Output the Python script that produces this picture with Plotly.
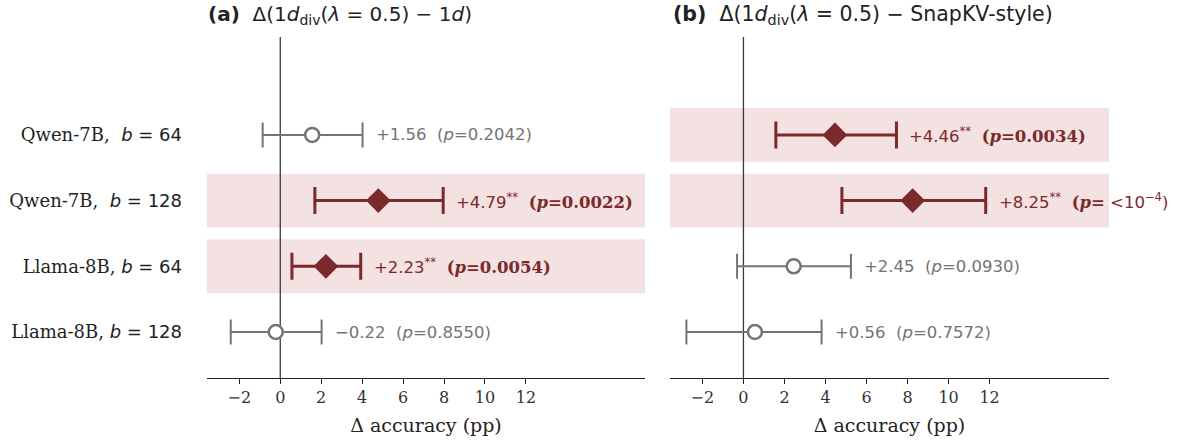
import plotly.graph_objects as go

# ---------------- data ----------------
rows = ["Qwen-7B", "Qwen-7B", "Llama-8B", "Llama-8B"]
budgets = [64, 128, 64, 128]

a_delta = [1.56, 4.79, 2.23, -0.22]
a_lo = [-0.86, 1.69, 0.57, -2.42]
a_hi = [4.02, 7.96, 3.93, 2.02]
a_p = ["0.2042", "0.0022", "0.0054", "0.8550"]
a_sig = [False, True, True, False]

b_delta = [4.46, 8.25, 2.45, 0.56]
b_lo = [1.58, 4.80, -0.31, -2.78]
b_hi = [7.46, 11.81, 5.24, 3.81]
b_p = ["0.0034", "<10^-4", "0.0930", "0.7572"]
b_sig = [True, True, False, False]

x_ticks = [-2, 0, 2, 4, 6, 8, 10, 12]
x_range = [-3.58, 17.82]
titles = [
    "<b>(a)</b>  Δ(1<i>d</i><sub>div</sub>(<i>λ</i> = 0.5) − 1<i>d</i>)",
    "<b>(b)</b>  Δ(1<i>d</i><sub>div</sub>(<i>λ</i> = 0.5) − SnapKV-style)",
]

# ---------------- style ----------------
RED = "#7b2a2c"
GRAY = "#747474"
BAND = "#f4e1e2"
SERIF = "DejaVu Serif"
SANS = "DejaVu Sans"

fig = go.Figure()

panels = [
    ("x", "y", a_delta, a_lo, a_hi, a_p, a_sig),
    ("x2", "y2", b_delta, b_lo, b_hi, b_p, b_sig),
]

ypos = list(range(len(rows)))
annotations = []
shapes = []

for k, (xa, ya, d, lo, hi, pv, sig) in enumerate(panels):
    axsuf = "" if k == 0 else "2"
    for i in ypos:
        if sig[i]:
            shapes.append(dict(type="rect", xref=f"x{axsuf} domain", yref=ya,
                               x0=0, x1=1, y0=i - 0.41, y1=i + 0.41,
                               fillcolor=BAND, line=dict(width=0), layer="below"))
    shapes.append(dict(type="line", xref=xa, yref=f"y{axsuf} domain",
                       x0=0, x1=0, y0=0, y1=1,
                       line=dict(color="#3a3a3a", width=1.3), layer="below"))
    for i in ypos:
        s = sig[i]
        col = RED if s else GRAY
        fig.add_trace(go.Scatter(
            x=[d[i]], y=[i], xaxis=xa, yaxis=ya, mode="markers",
            marker=dict(
                symbol="diamond" if s else "circle",
                size=19 if s else 14,
                color=RED if s else "white",
                line=dict(color=col, width=0 if s else 2.5),
            ),
            error_x=dict(type="data", symmetric=False,
                         array=[hi[i] - d[i]], arrayminus=[d[i] - lo[i]],
                         color=col, thickness=3 if s else 2,
                         width=13.5 if s else 12.5),
            showlegend=False, hoverinfo="skip",
        ))
        sign = "+" if d[i] >= 0 else "−"
        val = f"{sign}{abs(d[i]):.2f}"
        if s:
            if pv[i].startswith("<"):
                ptxt = (f"<span style='font-family:{SERIF}'><b>(<i>p</i>=</b></span>"
                        f" &lt;10<sup>−4</sup>)")
            else:
                ptxt = f"<span style='font-family:{SERIF}'><b>(<i>p</i>={pv[i]})</b></span>"
            txt = f"{val}<sup>**</sup>  {ptxt}"
        else:
            txt = f"{val}  (<i>p</i>={pv[i]})"
        annotations.append(dict(
            x=hi[i], y=i, xref=xa, yref=ya, text=txt, showarrow=False,
            xanchor="left", yanchor="middle", xshift=11,
            font=dict(family=SANS, size=16.5, color=col),
        ))

ticktext = []
for r, b in zip(rows, budgets):
    sep = ",  " if r.startswith("Qwen") else ", "
    ticktext.append(f"{r}{sep}<span style='font-family:{SANS}'><i>b</i> = {b}</span>")

xaxis_common = dict(
    range=x_range, tickvals=x_ticks,
    ticktext=[f"−{abs(t)}" if t < 0 else str(t) for t in x_ticks],
    showline=True, linecolor="#222", linewidth=1.2,
    ticks="outside", ticklen=5, tickcolor="#222", tickwidth=1.2,
    showgrid=False, zeroline=False,
    tickfont=dict(family=SERIF, size=16, color="#333"),
    title=dict(text="Δ accuracy (pp)", font=dict(family=SERIF, size=19, color="#222"),
               standoff=12),
)
yaxis_common = dict(
    range=[3.70, -1.49], showgrid=False, zeroline=False, showline=False,
    tickvals=ypos, ticks="",
)

fig.update_layout(
    width=1181, height=440,
    margin=dict(l=0, r=0, t=0, b=0),
    paper_bgcolor="white", plot_bgcolor="rgba(0,0,0,0)",
    xaxis=dict(domain=[207 / 1181, 645 / 1181], anchor="y", **xaxis_common),
    xaxis2=dict(domain=[670 / 1181, 1109 / 1181], anchor="y2", **xaxis_common),
    yaxis=dict(domain=[1 - 378 / 440, 1 - 37 / 440], anchor="x",
               ticktext=ticktext, ticklabelstandoff=24,
               tickfont=dict(family=SERIF, size=18, color="#222"),
               **yaxis_common),
    yaxis2=dict(domain=[1 - 378 / 440, 1 - 37 / 440], anchor="x2",
                showticklabels=False, **yaxis_common),
    shapes=shapes,
    annotations=annotations + [
        dict(text=titles[0], xref="paper", yref="paper", x=206 / 1181, y=1 - 15 / 440,
             xanchor="left", yanchor="middle", showarrow=False,
             font=dict(family=SANS, size=20, color="#222")),
        dict(text=titles[1], xref="paper", yref="paper", x=671 / 1181, y=1 - 15 / 440,
             xanchor="left", yanchor="middle", showarrow=False,
             font=dict(family=SANS, size=20.5, color="#222")),
    ],
)

fig.write_html("out.html", config={"displayModeBar": False},
               post_script="document.body.style.margin='0';")
